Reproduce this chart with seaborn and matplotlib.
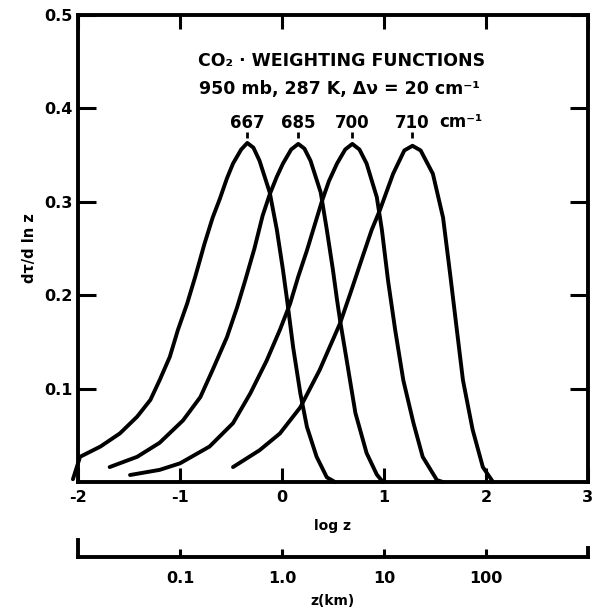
import matplotlib
matplotlib.use("Agg")
import matplotlib.pyplot as plt
import pandas as pd
import seaborn as sns

# --- Data ---
labels = ["667", "685", "700", "710"]

x_667 = [-2.05, -1.98, -1.78, -1.59, -1.42, -1.29, -1.20, -1.10, -1.02, -0.93, -0.85, -0.76,
         -0.68, -0.61, -0.54, -0.48, -0.40, -0.34, -0.28, -0.22, -0.12, -0.05, 0.01, 0.05,
         0.11, 0.18, 0.245, 0.34, 0.44, 0.52]
y_667 = [0.003, 0.027, 0.038, 0.052, 0.070, 0.088, 0.109, 0.134, 0.163, 0.191, 0.220, 0.255,
         0.283, 0.303, 0.325, 0.341, 0.356, 0.363, 0.358, 0.344, 0.310, 0.270, 0.227, 0.195,
         0.144, 0.095, 0.059, 0.027, 0.005, 0.000]

x_685 = [-1.69, -1.42, -1.20, -0.97, -0.80, -0.68, -0.54, -0.44, -0.36, -0.27, -0.19, -0.12,
         -0.05, 0.01, 0.09, 0.16, 0.22, 0.28, 0.38, 0.44, 0.50, 0.54, 0.57, 0.64, 0.72, 0.83,
         0.93, 0.99]
y_685 = [0.016, 0.027, 0.042, 0.066, 0.091, 0.120, 0.155, 0.187, 0.216, 0.250, 0.285, 0.308,
         0.327, 0.341, 0.356, 0.362, 0.357, 0.344, 0.310, 0.270, 0.227, 0.195, 0.173, 0.127,
         0.074, 0.031, 0.008, 0.000]

x_700 = [-1.49, -1.20, -1.00, -0.71, -0.48, -0.31, -0.15, -0.02, 0.08, 0.16, 0.245, 0.39,
         0.46, 0.54, 0.62, 0.69, 0.76, 0.83, 0.93, 0.98, 1.04, 1.11, 1.19, 1.29, 1.38, 1.52, 1.58]
y_700 = [0.0075, 0.013, 0.020, 0.038, 0.063, 0.095, 0.130, 0.163, 0.191, 0.220, 0.248, 0.300,
         0.322, 0.341, 0.356, 0.362, 0.356, 0.341, 0.305, 0.270, 0.216, 0.163, 0.109, 0.063,
         0.027, 0.002, 0.000]

x_710 = [-0.48, -0.22, -0.02, 0.18, 0.37, 0.57, 0.68, 0.79, 0.88, 0.96, 1.09, 1.20, 1.28,
         1.36, 1.48, 1.58, 1.65, 1.715, 1.775, 1.87, 1.97, 2.07]
y_710 = [0.016, 0.034, 0.052, 0.080, 0.120, 0.170, 0.205, 0.241, 0.270, 0.291, 0.330, 0.355,
         0.360, 0.355, 0.330, 0.283, 0.222, 0.163, 0.109, 0.056, 0.016, 0.000]

x_ticks = [-2, -1, 0, 1, 2, 3]
y_ticks = [0.1, 0.2, 0.3, 0.4, 0.5]
km_ticks = [0.1, 1, 10, 100]
km_labels = ["0.1", "1.0", "10", "100"]

rows = []
for lab, xs, ys in zip(labels, [x_667, x_685, x_700, x_710], [y_667, y_685, y_700, y_710]):
    for xv, yv in zip(xs, ys):
        rows.append({"band": lab, "log_z": xv, "weight": yv})
df = pd.DataFrame(rows)

# --- Style ---
sns.set_style("ticks")
plt.rcParams["font.family"] = ["DejaVu Sans"]
plt.rcParams["font.weight"] = "bold"
plt.rcParams["axes.unicode_minus"] = False
plt.rcParams["text.color"] = "black"
plt.rcParams["axes.labelcolor"] = "black"
plt.rcParams["xtick.color"] = "black"
plt.rcParams["ytick.color"] = "black"

fig = plt.figure(figsize=(5.97, 6.10), dpi=100)
ax = fig.add_axes([0.1307, 0.2098, 0.854, 0.7656])

sns.lineplot(data=df, x="log_z", y="weight", hue="band", palette=["black"] * 4,
             estimator=None, sort=False, linewidth=2.8, legend=False, ax=ax)
for ln in ax.lines:
    ln.set_clip_on(False)
    ln.set_solid_capstyle("round")
    ln.set_solid_joinstyle("round")

ax.set_xlim(-2, 3)
ax.set_ylim(0, 0.5)
ax.set_xticks(x_ticks)
ax.set_xticklabels([str(t) for t in x_ticks])
ax.set_yticks(y_ticks)
ax.set_yticklabels([f"{t:.1f}" for t in y_ticks])
ax.tick_params(axis="x", direction="in", length=10, width=2.2, top=True, labelsize=11.5, pad=6)
ax.tick_params(axis="y", direction="in", length=13, width=2.2, right=True, labelsize=11.5, pad=4)
for s in ax.spines.values():
    s.set_linewidth(2.8)
    s.set_color("black")

ax.set_xlabel("log z", fontsize=10, fontweight="bold", labelpad=10)
ax.set_ylabel("dτ/d ln z", fontsize=10.5, fontweight="bold", labelpad=5)

# --- Annotations ---
ax.text(0.58, 0.451, "CO₂ · WEIGHTING FUNCTIONS", ha="center", va="center", fontsize=12.5)
ax.text(0.56, 0.421, "950 mb, 287 K, Δν = 20 cm⁻¹", ha="center", va="center", fontsize=12.5)

for lab, xs, ys in zip(labels, [x_667, x_685, x_700, x_710], [y_667, y_685, y_700, y_710]):
    px = xs[ys.index(max(ys))]
    ax.text(px, 0.384, lab, ha="center", va="center", fontsize=12)
    ax.plot(px, 0.371, marker="|", ms=5, mew=2, color="black")
    if lab == labels[-1]:
        ax.annotate("cm⁻¹", (px, 0.384), xytext=(19, 1), textcoords="offset points",
                    ha="left", va="center", fontsize=12)

# --- Secondary z (km) scale ---
ax2 = fig.add_axes([0.1307, 0.0869, 0.854, 0.028])
ax2.set_facecolor("none")
ax2.set_xscale("log")
ax2.set_xlim(0.01, 1000)
ax2.set_ylim(0, 1)
ax2.set_yticks([])
ax2.set_xticks(km_ticks)
ax2.set_xticklabels(km_labels)
ax2.minorticks_off()
ax2.tick_params(axis="x", direction="in", length=6, width=2.2, labelsize=11.5, pad=10)
ax2.spines["top"].set_visible(False)
ax2.spines["right"].set_bounds(0, 0.5)
for s in ax2.spines.values():
    s.set_linewidth(2.8)
    s.set_color("black")
ax2.set_xlabel("z(km)", fontsize=10, fontweight="bold", labelpad=6)

fig.savefig("out.png", dpi=100)
